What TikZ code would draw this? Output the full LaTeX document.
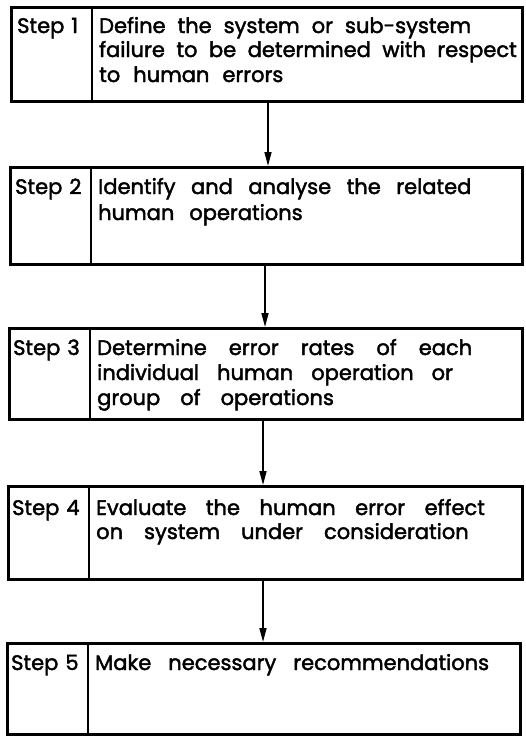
\documentclass[tikz,border=0pt]{standalone}
\usepackage{fontspec}
\setmainfont{Poppins}
\newfontfamily\lettering{Poppins}[FakeBold=2]
\usetikzlibrary{arrows.meta,calc}

% lettering with wide word gaps
\newcommand\stepfont{\lettering\fontsize{21}{24}\selectfont}
\newcommand\setgap[1]{\spaceskip=#1\relax}

\tikzset{
  stepframe/.style={draw, line width=2.6pt, inner sep=0pt, anchor=north west},
  divider/.style={line width=1.6pt},
  flow/.style={line width=1.6pt, -{Triangle[length=14pt, width=7pt]}},
  steptxt/.style={anchor=base west, inner sep=0pt, font=\stepfont,
    execute at begin node=\setgap{7pt}},
  bodytxt/.style={anchor=base west, inner sep=0pt, font=\stepfont,
    execute at begin node=\setgap{#1}},
  bodytxt/.default=15pt,
}

\begin{document}
\begin{tikzpicture}[x=1pt, y=-1pt]
  \useasboundingbox (0,0) rectangle (525,736);

  % frames: left, top, width, height
  \node[stepframe, minimum width=511pt, minimum height=94pt] (b1) at (10,6) {};
  \node[stepframe, minimum width=512pt, minimum height=97pt] (b2) at (9,166) {};
  \node[stepframe, minimum width=513pt, minimum height=91pt] (b3) at (8,327) {};
  \node[stepframe, minimum width=514pt, minimum height=93pt] (b4) at (7,485) {};
  \node[stepframe, minimum width=513pt, minimum height=91pt] (b5) at (6,642) {};

  % column dividers between step number and description
  \draw[divider] ($(b1.north west)+(82,0)$) coordinate (d1t) -- (d1t |- b1.south);
  \draw[divider] ($(b2.north west)+(82,0)$) coordinate (d2t) -- (d2t |- b2.south);
  \draw[divider] ($(b3.north west)+(82,0)$) coordinate (d3t) -- (d3t |- b3.south);
  \draw[divider] ($(b4.north west)+(82,0)$) coordinate (d4t) -- (d4t |- b4.south);
  \draw[divider] ($(b5.north west)+(82,0)$) coordinate (d5t) -- (d5t |- b5.south);

  % step labels
  \node[steptxt] (l1) at (17,33) {Step 1};
  \node[steptxt] (l2) at (15,194) {Step 2};
  \node[steptxt] (l3) at (13,355) {Step 3};
  \node[steptxt] (l4) at (12,515) {Step 4};
  \node[steptxt] (l5) at (11,670) {Step 5};

  % descriptions, one node per line
  \node[bodytxt=12pt] (t1a) at (99,33) {Define the system or sub-system};
  \node[bodytxt=11.5pt] (t1b) at (99,57) {failure to be determined with respect};
  \node[bodytxt=13pt] (t1c) at (99,82) {to human errors};
  \node[bodytxt=15.5pt] (t2a) at (98,194) {Identify and analyse the related};
  \node[bodytxt=15pt] (t2b) at (98,220) {human operations};
  \node[bodytxt=22pt] (t3a) at (97,355) {Determine error rates of each};
  \node[bodytxt=18pt] (t3b) at (97,380) {individual human operation or};
  \node[bodytxt=20pt] (t3c) at (97,405) {group of operations};
  \node[bodytxt=19.5pt] (t4a) at (96,515) {Evaluate the human error effect};
  \node[bodytxt=21pt] (t4b) at (96,539) {on system under consideration};
  \node[bodytxt=17pt] (t5a) at (95,670) {Make necessary recommendations};

  % connectors
  \coordinate (a1) at (268,0);
  \coordinate (a2) at (265,0);
  \coordinate (a3) at (263,0);
  \coordinate (a4) at (263,0);
  \draw[flow] (a1 |- b1.south) -- (a1 |- b2.north);
  \draw[flow] (a2 |- b2.south) -- (a2 |- b3.north);
  \draw[flow] (a3 |- b3.south) -- (a3 |- b4.north);
  \draw[flow] (a4 |- b4.south) -- (a4 |- b5.north);
\end{tikzpicture}
\end{document}
